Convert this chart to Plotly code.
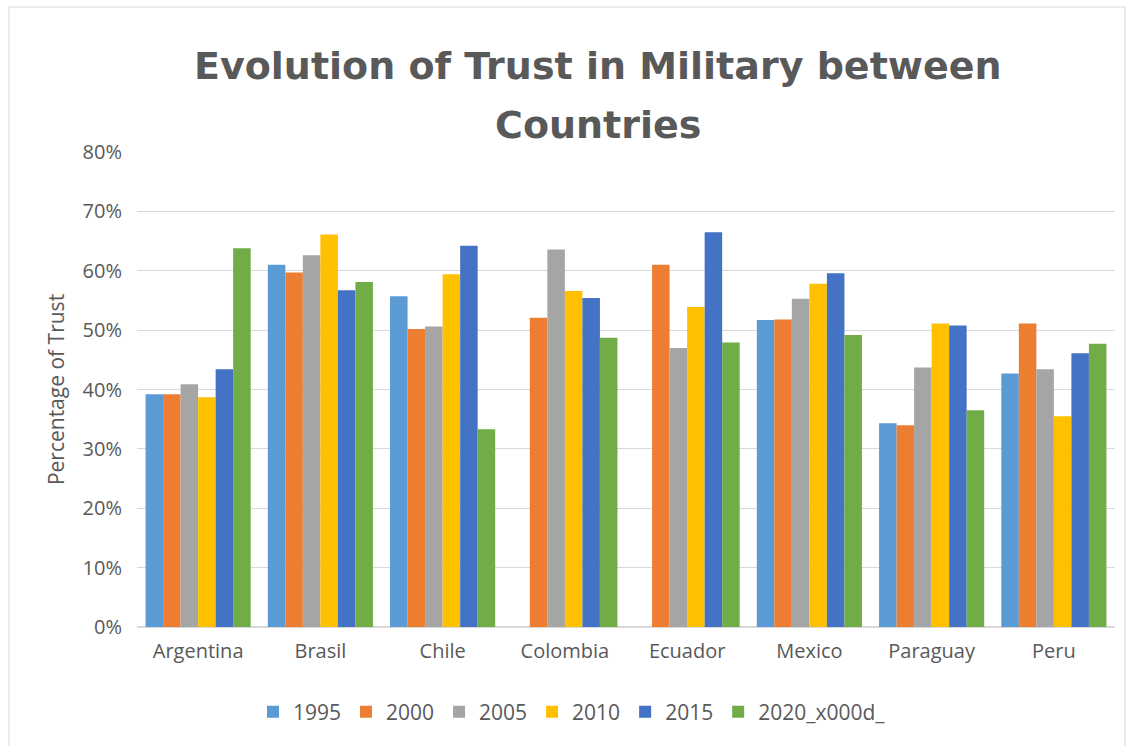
import plotly.graph_objects as go

countries = ["Argentina", "Brasil", "Chile", "Colombia", "Ecuador", "Mexico", "Paraguay", "Peru"]
years = ["1995", "2000", "2005", "2010", "2015", "2020_x000d_"]
v1995 = [0.392, 0.610, 0.557, None, None, 0.517, 0.343, 0.427]
v2000 = [0.392, 0.597, 0.502, 0.521, 0.610, 0.518, 0.340, 0.511]
v2005 = [0.409, 0.626, 0.506, 0.636, 0.470, 0.553, 0.437, 0.434]
v2010 = [0.387, 0.661, 0.594, 0.566, 0.539, 0.578, 0.511, 0.355]
v2015 = [0.434, 0.567, 0.642, 0.554, 0.665, 0.596, 0.508, 0.461]
v2020 = [0.638, 0.581, 0.333, 0.487, 0.479, 0.492, 0.365, 0.477]
series = [v1995, v2000, v2005, v2010, v2015, v2020]
colors = ["#5B9BD5", "#ED7D31", "#A5A5A5", "#FFC000", "#4472C4", "#70AD47"]

W, H = 1132, 746
ML, MR, MT, MB = 137, 17, 152, 119
txt = "#595959"

fig = go.Figure()
for name, vals, c in zip(years, series, colors):
    fig.add_trace(go.Bar(x=countries, y=vals, name=name, marker=dict(color=c, line=dict(width=0))))

pw = W - ML - MR
ph = H - MT - MB
def px_x(x):
    return (x - ML) / pw
def px_y(y):
    return (H - MB - y) / ph

fig.update_layout(
    width=W, height=H,
    margin=dict(l=ML, r=MR, t=MT, b=MB),
    paper_bgcolor="white", plot_bgcolor="white",
    barmode="group", bargap=0.14, bargroupgap=0,
    font=dict(family="Open Sans", color=txt, size=19),
    showlegend=True,
    legend=dict(orientation="h", x=px_x(572), xanchor="center", y=px_y(712), yanchor="middle",
                font=dict(size=21, color=txt), traceorder="normal", itemwidth=30),
    shapes=[dict(type="rect", xref="paper", yref="paper",
                 x0=px_x(9), x1=px_x(1125), y0=px_y(760), y1=px_y(7),
                 line=dict(color="#D9D9D9", width=1), fillcolor="rgba(0,0,0,0)", layer="below")],
    annotations=[
        dict(text="Evolution of Trust in Military between", xref="paper", yref="paper",
             x=px_x(598), y=px_y(66), xanchor="center", yanchor="middle", showarrow=False,
             font=dict(family="DejaVu Sans", size=38, color=txt, weight="bold")),
        dict(text="Countries", xref="paper", yref="paper",
             x=px_x(598), y=px_y(125), xanchor="center", yanchor="middle", showarrow=False,
             font=dict(family="DejaVu Sans", size=38, color=txt, weight="bold")),
    ],
)
fig.update_yaxes(range=[0, 0.8], dtick=0.1, tickformat=".0%", showgrid=True, gridcolor="#D9D9D9",
                 gridwidth=1, zeroline=True, zerolinecolor="#D9D9D9", showline=False,
                 ticklabelstandoff=14, tickfont=dict(size=20, color=txt),
                 title=dict(text="Percentage of Trust", font=dict(size=21, color=txt), standoff=12))
fig.update_xaxes(showgrid=False, showline=True, linecolor="#D9D9D9", ticks="",
                 ticklabelstandoff=6, tickfont=dict(size=20, color=txt))

fig.write_html("out.html")
